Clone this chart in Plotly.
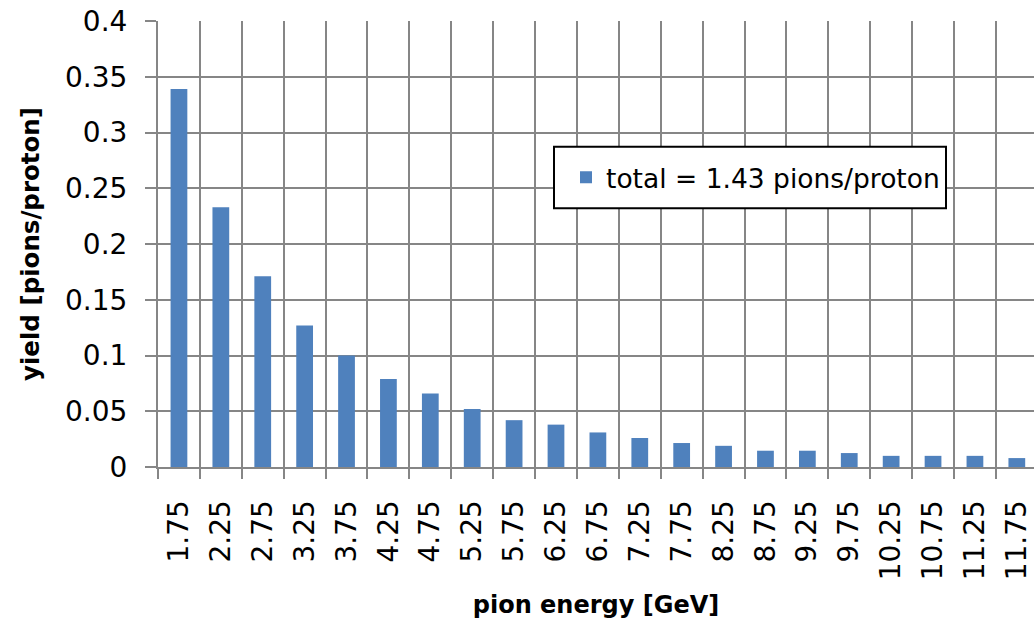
import plotly.graph_objects as go

energies = ["1.75", "2.25", "2.75", "3.25", "3.75", "4.25", "4.75", "5.25", "5.75", "6.25",
            "6.75", "7.25", "7.75", "8.25", "8.75", "9.25", "9.75", "10.25", "10.75", "11.25", "11.75"]
yields = [0.339, 0.233, 0.171, 0.127, 0.100, 0.079, 0.066, 0.052, 0.042, 0.038,
          0.031, 0.026, 0.0215, 0.019, 0.0146, 0.0146, 0.0125, 0.010, 0.010, 0.010, 0.008]
y_ticks = [0, 0.05, 0.1, 0.15, 0.2, 0.25, 0.3, 0.35, 0.4]
y_tick_labels = ["0", "0.05", "0.1", "0.15", "0.2", "0.25", "0.3", "0.35", "0.4"]
series_name = "total = 1.43 pions/proton"
x_title = "pion energy [GeV]"
y_title = "yield [pions/proton]"

W, H = 1034, 621
ML, MR, MT, MB = 158, 0, 21, 154
PW, PH = W - ML - MR, H - MT - MB

FONT = "DejaVu Sans"
GRID = "#868686"
BAR = "#4f81bd"


def px_x(p):
    return (p - ML) / PW


def px_y(p):
    return (H - MB - p) / PH


fig = go.Figure(
    go.Bar(x=energies, y=yields, name=series_name, marker=dict(color=BAR, line=dict(width=0)),
           showlegend=True)
)

fig.update_layout(
    width=W, height=H,
    margin=dict(l=ML, r=MR, t=MT, b=MB, pad=0),
    paper_bgcolor="white", plot_bgcolor="white",
    bargap=0.6,
    showlegend=True,
    font=dict(family=FONT, color="black"),
    legend=dict(x=px_x(566), y=px_y(177.5), xanchor="left", yanchor="middle",
                bgcolor="rgba(0,0,0,0)", borderwidth=0,
                font=dict(family=FONT, size=26.5, color="black")),
    shapes=[dict(type="rect", xref="paper", yref="paper",
                 x0=px_x(554), x1=px_x(946), y0=px_y(208.3), y1=px_y(146.7),
                 fillcolor="white", line=dict(color="black", width=2), layer="above")],
)

fig.update_xaxes(
    type="category", range=[-0.5, 20.41],
    tickson="boundaries", ticks="outside", ticklen=10, tickwidth=2, tickcolor=GRID,
    showgrid=True, gridcolor=GRID, gridwidth=2,
    showline=True, linecolor=GRID, linewidth=2,
    tickangle=-90, tickfont=dict(family=FONT, size=28, color="black"),
    ticklabelstandoff=20,
    title=dict(text="<b>" + x_title + "</b>", font=dict(family=FONT, size=24, color="black"), standoff=17),
)

fig.update_yaxes(
    range=[0, 0.4], tickvals=y_ticks, ticktext=y_tick_labels,
    ticks="outside", ticklen=11, tickwidth=2, tickcolor=GRID,
    showgrid=True, gridcolor=GRID, gridwidth=2, zeroline=False,
    showline=True, linecolor=GRID, linewidth=2,
    tickfont=dict(family=FONT, size=28, color="black"),
    ticklabelstandoff=12,
    title=dict(text="<b>" + y_title + "</b>", font=dict(family=FONT, size=24.5, color="black"), standoff=18),
)

fig.write_html("out.html")
